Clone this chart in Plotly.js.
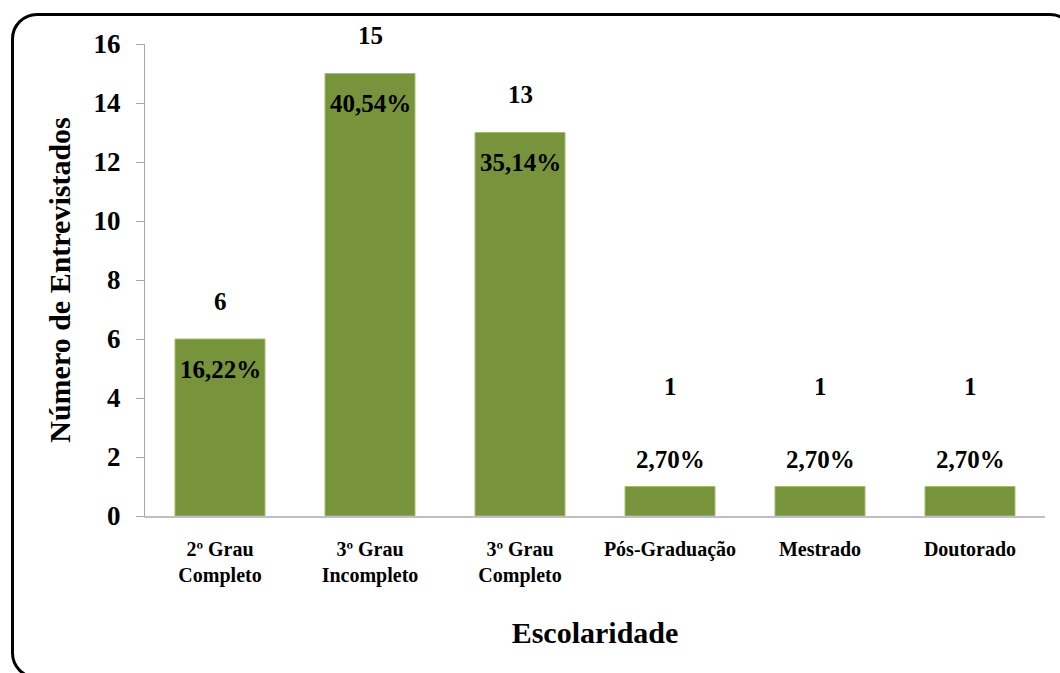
<!DOCTYPE html>
<html>
<head>
<meta charset="utf-8">
<script src="https://cdn.plot.ly/plotly-3.0.1.min.js"></script>
<style>
html,body{margin:0;padding:0;background:#fff;}
#wrap{position:relative;width:1060px;height:673px;overflow:hidden;}
#chart{width:1060px;height:673px;}
#frame{position:absolute;left:11px;top:13px;width:1065px;height:666px;border:3px solid #000;border-radius:26px;box-sizing:border-box;pointer-events:none;}
</style>
</head>
<body>
<div id="wrap"><div id="chart"></div><div id="frame"></div></div>
<script>
const categories = ["2º Grau<br>Completo", "3º Grau<br>Incompleto", "3º Grau<br>Completo", "Pós-Graduação", "Mestrado", "Doutorado"];
const counts = [6, 15, 13, 1, 1, 1];
const percents = ["16,22%", "40,54%", "35,14%", "2,70%", "2,70%", "2,70%"];
const yTicks = [0, 2, 4, 6, 8, 10, 12, 14, 16];

const serif = "Liberation Serif, Times New Roman, serif";
const annotations = [];
counts.forEach((v, i) => {
  const big = v >= 3;
  annotations.push({
    x: categories[i], y: v, xref: "x", yref: "y", text: String(v),
    showarrow: false, yshift: big ? 38 : 100,
    font: {family: serif, size: 25, color: "#000", weight: "bold"}
  });
  annotations.push({
    x: categories[i], y: v, xref: "x", yref: "y", text: percents[i],
    showarrow: false, yshift: big ? -30 : 27,
    font: {family: serif, size: 25, color: "#000", weight: "bold"}
  });
});

const trace = {
  type: "bar",
  x: categories,
  y: counts,
  marker: {color: "#77933C", line: {color: "#A3BE6B", width: 1}},
  hoverinfo: "skip"
};

const layout = {
  width: 1060, height: 673,
  margin: {l: 145, r: 15, t: 44, b: 157},
  paper_bgcolor: "#fff", plot_bgcolor: "#fff",
  bargap: 0.4,
  showlegend: false,
  font: {family: serif, color: "#000"},
  xaxis: {
    type: "category",
    showline: true, linecolor: "#bfbfbf", linewidth: 2,
    ticks: "", showgrid: false, zeroline: false,
    ticklabelstandoff: 14,
    tickfont: {family: serif, size: 20, color: "#000", weight: "bold"},
    title: {text: "Escolaridade", font: {family: serif, size: 30, color: "#000", weight: "bold"}, standoff: 36},
    automargin: false, fixedrange: true
  },
  yaxis: {
    range: [0, 16], tickvals: yTicks, ticktext: yTicks.map(String),
    showline: true, linecolor: "#a6a6a6", linewidth: 1,
    ticks: "outside", ticklen: 8, tickcolor: "#a6a6a6",
    ticklabelstandoff: 10,
    showgrid: false, zeroline: false,
    tickfont: {family: serif, size: 27, color: "#000", weight: "bold"},
    title: {text: "Número de Entrevistados", font: {family: serif, size: 30, color: "#000", weight: "bold"}, standoff: 14},
    automargin: false, fixedrange: true
  },
  annotations: annotations
};

Plotly.newPlot("chart", [trace], layout, {displayModeBar: false, staticPlot: true});
</script>
</body>
</html>
